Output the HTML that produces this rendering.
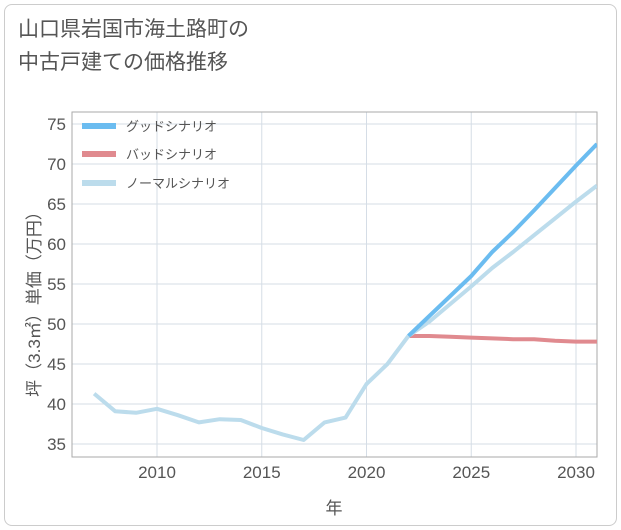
<!DOCTYPE html>
<html><head><meta charset="utf-8"><style>
body{margin:0;background:#fff;}
.card{position:absolute;left:4px;top:4px;width:611px;height:520px;border:1px solid #ccc;border-radius:8px;background:#fff;}
.title{position:absolute;left:18px;top:14px;font:21px/1.55 "Liberation Sans","Noto Sans CJK JP",sans-serif;color:#555;}
svg text{font-family:"Liberation Sans","Noto Sans CJK JP",sans-serif;}
</style></head><body>
<div class="card"></div>
<div class="title">山口県岩国市海土路町の<br>中古戸建ての価格推移</div>
<svg id="c" width="621" height="530" style="position:absolute;left:0;top:0"></svg>
<script>
const histYears=[2007,2008,2009,2010,2011,2012,2013,2014,2015,2016,2017,2018,2019,2020,2021,2022];
const histVals=[41.3,39.1,38.9,39.4,38.6,37.7,38.1,38.0,37.0,36.2,35.5,37.7,38.3,42.5,45.0,48.5];
const futYears=[2022,2023,2024,2025,2026,2027,2028,2029,2030,2031];
const goodVals=[48.5,51.0,53.5,56.0,59.0,61.5,64.2,67.0,69.8,72.5];
const badVals=[48.5,48.5,48.4,48.3,48.2,48.1,48.1,47.9,47.8,47.8];
const normVals=[48.5,50.3,52.5,54.7,57.0,59.0,61.1,63.2,65.3,67.3];
const yTicks=[35,40,45,50,55,60,65,70,75];
const xTicks=[2010,2015,2020,2025,2030];
const NS="http://www.w3.org/2000/svg";
const svg=document.getElementById('c');
const L=72,R=597,T=112,B=457;
const x=v=>157+(v-2010)*20.95;
const y=v=>444-(v-35)*8;
function mk(t,a){const e=document.createElementNS(NS,t);for(const k in a)e.setAttribute(k,a[k]);svg.appendChild(e);return e;}
yTicks.forEach(v=>{
 const g=mk('line',{x1:L,x2:R,y1:y(v),y2:y(v),stroke:'#d5dde6','stroke-width':1});
 
 
 const t=mk('text',{x:L-6,y:y(v)+6,'text-anchor':'end','font-size':17,fill:'#555'});t.textContent=v;
 
 
});
xTicks.forEach(v=>{
 const g=mk('line',{x1:x(v),x2:x(v),y1:T,y2:B,stroke:'#d5dde6','stroke-width':1});
 
 
 const t=mk('text',{x:x(v),y:B+21,'text-anchor':'middle','font-size':17,fill:'#555'});t.textContent=v;
 
 
});
const fr=mk('rect',{x:L,y:T,width:R-L,height:B-T,fill:'none',stroke:'#aaa','stroke-width':1});


function line(xs,vs,col,name){
 const p=mk('polyline',{points:xs.map((a,i)=>x(a)+','+y(vs[i])).join(' '),fill:'none',stroke:col,'stroke-width':4,'stroke-linejoin':'round'});
 
 
}
const cp=mk('clipPath',{id:'cp'});const cr=document.createElementNS(NS,'rect');cr.setAttribute('x',L);cr.setAttribute('y',T);cr.setAttribute('width',R-L);cr.setAttribute('height',B-T);cp.appendChild(cr);
line(futYears,badVals,'#e08a8f','bad-scenario-line');
line(futYears,normVals,'#bcdcec','normal-scenario-line');
line(futYears,goodVals,'#6bbcf0','good-scenario-line');
line(histYears,histVals,'#bcdcec','historical-line');
svg.querySelectorAll('polyline').forEach(p=>p.setAttribute('clip-path','url(#cp)'));
const leg=[['グッドシナリオ','#6bbcf0',126],['バッドシナリオ','#e08a8f',154],['ノーマルシナリオ','#bcdcec',183]];
leg.forEach(l=>{
 const s=mk('line',{x1:82,x2:116,y1:l[2],y2:l[2],stroke:l[1],'stroke-width':6});
 
 
 const t=mk('text',{x:126,y:l[2]+5,'font-size':13,fill:'#555'});t.textContent=l[0];
 
 
});
const yt=mk('text',{transform:'translate(40,300) rotate(-90)','text-anchor':'middle','font-size':17,fill:'#555'});yt.textContent='坪（3.3㎡）単価（万円）';


const xt=mk('text',{x:334,y:514,'text-anchor':'middle','font-size':17,fill:'#555'});xt.textContent='年';


</script>
</body></html>
